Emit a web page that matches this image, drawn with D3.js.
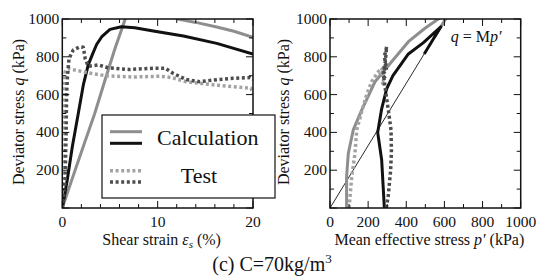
<!DOCTYPE html>
<html>
<head>
<meta charset="utf-8">
<script src="https://cdn.jsdelivr.net/npm/d3@7"></script>
<style>
  body { margin: 0; background: #fff; }
</style>
</head>
<body>
<script>
// left panel: q vs shear strain (%)
var calcLightEps = [[0,0],[1.0,150],[2.2,325],[3.4,500],[4.5,680],[5.5,840],[6.6,1000],[8,1070],[10,1050],[12.1,1000],[14,982],[16.2,958],[18,935],[20,903]];
var calcDarkEps = [[0,0],[0.52,148],[1.05,324],[1.68,501],[2.2,650],[2.72,757],[3.14,810],[3.6,865],[4.12,905],[5.0,945],[6.2,959],[7.6,954],[9.7,935],[12.7,910],[16.2,871],[20,815]];
var testLightEps = [[0,0],[0.1,300],[0.15,600],[0.3,720],[0.6,738],[1.5,728],[3,713],[4.5,700],[7.4,693],[10.2,697],[11.5,690],[13,668],[15.8,652],[17.9,642],[19.8,633],[20,600]];
var testDarkEps = [[0,0],[0.3,150],[0.4,400],[0.45,600],[0.55,700],[0.7,790],[1.15,836],[1.85,853],[2.2,850],[2.4,790],[2.72,750],[3.8,757],[4.8,742],[7,733],[9.7,740],[10.8,740],[11.6,713],[13,680],[14.4,668],[15.8,677],[17.9,686],[19.7,690],[20,680]];

// right panel: q vs mean effective stress p' (kPa)
var calcLightP = [[87,0],[87,166],[96,289],[122,413],[166,518],[236,668],[323,774],[411,880],[498,951],[568,1000],[640,1056],[548,904]];
var calcDarkP = [[285,0],[271,254],[250,400],[270,520],[297,630],[330,700],[411,815],[490,875],[581,959],[494,815]];
var testLightP = [[100,0],[114,166],[131,289],[140,413],[166,510],[192,598],[218,668],[253,721],[275,738],[262,712],[285,700],[268,685],[290,672],[276,660],[288,645]];
var testDarkP = [[295,0],[305,60],[318,200],[322,300],[320,413],[306,518],[297,580],[285,668],[280,721],[290,774],[297,853],[285,800],[293,760],[280,740],[295,735],[283,718],[293,700],[282,690],[290,680]];

var csl = [[0,0],[581,959]];   // q = Mp'

var strainTicks = [0,10,20];
var pTicks = [0,200,400,600,800,1000];
var qTicks = [200,400,600,800,1000];

var W = 537, H = 279;
var svg = d3.select("body").append("svg").attr("width", W).attr("height", H)
  .attr("font-family", "'Liberation Serif', 'Times New Roman', serif").attr("fill", "#111");

var yQ = d3.scaleLinear().domain([0,1000]).range([208,19]);
var xEps = d3.scaleLinear().domain([0,20]).range([62.3,253]);
var xP = d3.scaleLinear().domain([0,1000]).range([330,520.7]);

var styles = {
  calcLight: {stroke: "#8e8e8e", width: 3, dash: null},
  calcDark: {stroke: "#111", width: 3, dash: null},
  testLight: {stroke: "#a3a3a3", width: 3.5, dash: "3,2.6"},
  testDark: {stroke: "#4d4d4d", width: 3.5, dash: "3,2.6"}
};

function panel(id, x, majors, minorStep, series, yLabelX, xLabel) {
  var g = svg.append("g");
  var x0 = x.range()[0], x1 = x.range()[1], y0 = yQ.range()[0], y1 = yQ.range()[1];
  g.append("clipPath").attr("id", id).append("rect")
    .attr("x", x0).attr("y", y1).attr("width", x1 - x0).attr("height", y0 - y1);

  var line = d3.line().x(d => x(d[0])).y(d => yQ(d[1]));
  var plot = g.append("g").attr("clip-path", "url(#" + id + ")");
  series.forEach(function(s) {
    plot.append("path").attr("d", line(s.data)).attr("fill", "none")
      .attr("stroke", s.style.stroke).attr("stroke-width", s.style.width)
      .attr("stroke-dasharray", s.style.dash).attr("stroke-linejoin", "round");
  });

  // inward ticks on all four sides
  var d = x.domain();
  var xs = d3.range(d[0], d[1] + minorStep/2, minorStep);
  xs.forEach(function(v) {
    var len = majors.indexOf(v) >= 0 ? 7 : 4;
    g.append("line").attr("x1", x(v)).attr("x2", x(v)).attr("y1", y0).attr("y2", y0 - len).attr("stroke", "#111");
    g.append("line").attr("x1", x(v)).attr("x2", x(v)).attr("y1", y1).attr("y2", y1 + len).attr("stroke", "#111");
  });
  d3.range(0, 1001, 100).forEach(function(v) {
    var len = v % 200 === 0 ? 7 : 4;
    g.append("line").attr("x1", x0).attr("x2", x0 + len).attr("y1", yQ(v)).attr("y2", yQ(v)).attr("stroke", "#111");
    g.append("line").attr("x1", x1).attr("x2", x1 - len).attr("y1", yQ(v)).attr("y2", yQ(v)).attr("stroke", "#111");
  });
  g.append("rect").attr("x", x0).attr("y", y1).attr("width", x1 - x0).attr("height", y0 - y1)
    .attr("fill", "none").attr("stroke", "#111").attr("stroke-width", 1.5);

  g.selectAll(".xt").data(majors).enter().append("text")
    .attr("x", v => x(v)).attr("y", 227).attr("text-anchor", "middle")
    .attr("font-size", 15.5).text(v => v);
  g.selectAll(".yt").data(qTicks).enter().append("text")
    .attr("x", x0 - 3).attr("y", v => yQ(v) + 5).attr("text-anchor", "end")
    .attr("font-size", 15.5).text(v => v);

  var yl = g.append("text").attr("transform", "translate(" + yLabelX + ",112) rotate(-90)")
    .attr("text-anchor", "middle").attr("font-size", 16);
  yl.append("tspan").text("Deviator stress  ");
  yl.append("tspan").attr("font-style", "italic").text("q");
  yl.append("tspan").text(" (kPa)");

  var xl = g.append("text").attr("x", (x0 + x1) / 2 + 4).attr("y", 245)
    .attr("text-anchor", "middle").attr("font-size", 16);
  xLabel(xl);
  return {g: g, plot: plot, line: line};
}

var left = panel("clipL", xEps, strainTicks, 2, [
  {data: calcLightEps, style: styles.calcLight},
  {data: calcDarkEps, style: styles.calcDark},
  {data: testLightEps, style: styles.testLight},
  {data: testDarkEps, style: styles.testDark}
], 24, function(t) {
  t.append("tspan").text("Shear strain  ");
  t.append("tspan").attr("font-style", "italic").text("ε");
  t.append("tspan").attr("font-style", "italic").attr("font-size", 11).attr("dy", 3).text("s");
  t.append("tspan").attr("dy", -3).text(" (%)");
});

var right = panel("clipR", xP, pTicks, 100, [
  {data: csl, style: {stroke: "#111", width: 0.9, dash: null}},
  {data: calcLightP, style: styles.calcLight},
  {data: calcDarkP, style: styles.calcDark},
  {data: testLightP, style: styles.testLight},
  {data: testDarkP, style: styles.testDark}
], 289, function(t) {
  t.append("tspan").text("Mean effective stress  ");
  t.append("tspan").attr("font-style", "italic").text("p′");
  t.append("tspan").text(" (kPa)");
});

var ann = svg.append("text").attr("x", 476).attr("y", 42).attr("text-anchor", "middle").attr("font-size", 16);
ann.append("tspan").attr("font-style", "italic").text("q");
ann.append("tspan").text(" = M");
ann.append("tspan").attr("font-style", "italic").text("p′");

// legend
var lg = svg.append("g");
lg.append("rect").attr("x", 102).attr("y", 115).attr("width", 173).attr("height", 83)
  .attr("fill", "#fff").attr("stroke", "#111").attr("stroke-width", 1.2);
var legendRows = [
  {y: 131.7, style: styles.calcLight},
  {y: 143.3, style: styles.calcDark},
  {y: 170.7, style: styles.testLight},
  {y: 182, style: styles.testDark}
];
lg.selectAll(".lr").data(legendRows).enter().append("line")
  .attr("x1", 110).attr("x2", 142).attr("y1", d => d.y).attr("y2", d => d.y)
  .attr("stroke", d => d.style.stroke).attr("stroke-width", d => d.style.width)
  .attr("stroke-dasharray", d => d.style.dash);
lg.append("text").attr("x", 157).attr("y", 145).attr("font-size", 22).text("Calculation");
lg.append("text").attr("x", 199).attr("y", 183).attr("text-anchor", "middle").attr("font-size", 22).text("Test");

var cap = svg.append("text").attr("x", 272).attr("y", 271).attr("text-anchor", "middle").attr("font-size", 20);
cap.append("tspan").text("(c) C=70kg/m");
cap.append("tspan").attr("font-size", 13).attr("dy", -8).text("3");
</script>
</body>
</html>
